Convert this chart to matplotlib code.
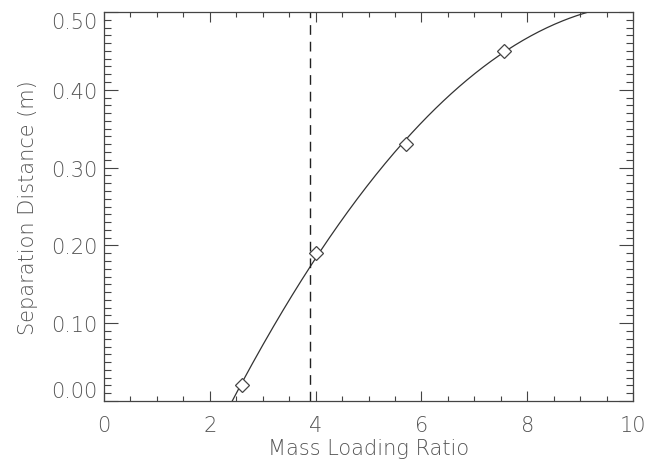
import numpy as np
import matplotlib
matplotlib.use("Agg")
import matplotlib.pyplot as plt
from matplotlib.ticker import MultipleLocator

# measured points (mass loading ratio vs separation distance)
ratio = [2.6, 4.0, 5.7, 7.56]
distance = [0.02, 0.19, 0.33, 0.45]
x_cut = 3.9   # dashed vertical marker

x_ticks = [0, 2, 4, 6, 8, 10]
y_ticks = [0.0, 0.1, 0.2, 0.3, 0.4, 0.5]

txt = '#555555'
plt.rcParams['font.family'] = ['DejaVu Sans']
plt.rcParams['font.weight'] = 'light'
plt.rcParams['axes.labelweight'] = 'light'

fig = plt.figure(figsize=(6.53, 4.64), dpi=100)
ax = fig.add_axes([0.1593, 0.1336, 0.8101, 0.8384])

# quadratic fit through the points
coef = np.polyfit(ratio, distance, 2)
xs = np.linspace(0, 10, 400)
ax.plot(xs, np.polyval(coef, xs), color='#333333', lw=0.9)
ax.plot(ratio, distance, ls='none', marker='D', ms=7, mfc='white',
        mec='#444444', mew=0.9)
ax.axvline(x_cut, color='#222222', lw=1.0, dashes=(7, 5))

ax.set_xlim(0, 10)
ax.set_ylim(0, 0.5)
ax.set_xticks(x_ticks)
ax.set_yticks(y_ticks)
ax.set_xticklabels([str(t) for t in x_ticks])
ax.set_yticklabels(['%.2f' % t for t in y_ticks])
ax.xaxis.set_minor_locator(MultipleLocator(0.5))
ax.yaxis.set_minor_locator(MultipleLocator(0.01))

ax.tick_params(axis='x', which='major', direction='in', length=7, width=0.8,
               top=True, color='#444444', labelsize=15, labelcolor=txt, pad=10)
ax.tick_params(axis='x', which='minor', direction='in', length=3.5, width=0.8,
               top=True, color='#444444')
ax.tick_params(axis='y', which='major', direction='in', length=10, width=0.8,
               right=True, color='#444444', labelsize=15, labelcolor=txt, pad=5)
ax.tick_params(axis='y', which='minor', direction='in', length=5, width=0.8,
               right=True, color='#444444')

# end labels sit inside the frame, as in the original
ylabs = ax.get_yticklabels()
ylabs[0].set_verticalalignment('bottom')
ylabs[-1].set_verticalalignment('top')

for s in ax.spines.values():
    s.set_color('#444444')
    s.set_linewidth(0.9)

ax.set_xlabel('Mass Loading Ratio', fontsize=15, color=txt, labelpad=2,
              fontweight='light')
ax.set_ylabel('Separation Distance (m)', fontsize=15, color=txt, labelpad=9,
              fontweight='light')

fig.savefig('out.png', dpi=100)
